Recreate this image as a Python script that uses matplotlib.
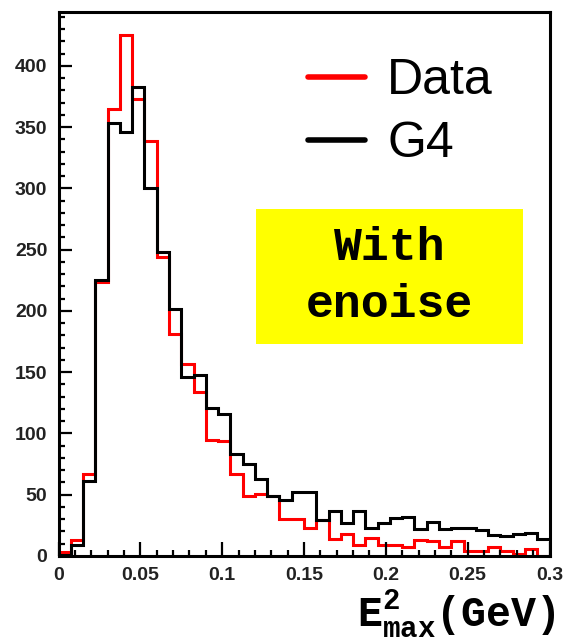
#!/usr/bin/env python

import matplotlib
matplotlib.use('Agg')
import matplotlib.pyplot as pyplot
import matplotlib.patches as patches
from matplotlib.ticker import MultipleLocator
import numpy as np

# 40 bins of 0.0075 GeV between 0 and 0.3
bin_edges = np.linspace(0.0, 0.3, 41)

data_counts = [3, 13, 67, 224, 365, 425, 373, 339, 244, 181,
               157, 134, 95, 94, 67, 49, 51, 49, 30, 30,
               23, 29, 14, 18, 9, 15, 9, 9, 7, 13,
               12, 7, 12, 4, 4, 7, 4, 2, 6, 0]
g4_counts = [1, 9, 61, 225, 353, 346, 383, 300, 248, 202,
             146, 148, 121, 116, 83, 75, 63, 49, 46, 52,
             52, 29, 37, 27, 37, 23, 27, 31, 32, 22,
             28, 22, 23, 23, 21, 17, 16, 18, 19, 14]

series_names = ['Data', 'G4']
series_colors = ['red', 'black']

pyplot.rcParams['font.family'] = ['Liberation Sans', 'DejaVu Sans']
pyplot.rcParams['mathtext.fontset'] = 'custom'
pyplot.rcParams['mathtext.rm'] = 'Liberation Mono:bold'
pyplot.rcParams['mathtext.it'] = 'Liberation Mono:bold'
pyplot.rcParams['mathtext.bf'] = 'Liberation Mono:bold'

W, H = 568, 640
fig = pyplot.figure(figsize=(W / 100, H / 100), dpi=100)
ax = fig.add_axes([58.5 / W, 1 - 556 / H, 491 / W, 544 / H])

for counts, name, color in zip([data_counts, g4_counts], series_names, series_colors):
  ax.stairs(counts, bin_edges, color=color, linewidth=2.2, label=name, baseline=None)

ax.set_xlim(0, 0.3)
ax.set_ylim(0, 444)

ax.xaxis.set_major_locator(MultipleLocator(0.05))
ax.xaxis.set_minor_locator(MultipleLocator(0.01))
ax.yaxis.set_major_locator(MultipleLocator(50))
ax.yaxis.set_minor_locator(MultipleLocator(10))
ax.set_xticks([0, 0.05, 0.1, 0.15, 0.2, 0.25, 0.3])
ax.set_xticklabels(['0', '0.05', '0.1', '0.15', '0.2', '0.25', '0.3'])

ax.tick_params(which='both', direction='in', top=False, right=False, width=1.6)
ax.tick_params(which='major', axis='x', length=10, pad=8)
ax.tick_params(which='minor', axis='x', length=4)
ax.tick_params(which='major', axis='y', length=9, pad=8)
ax.tick_params(which='minor', axis='y', length=4.5)
for lab in ax.get_xticklabels() + ax.get_yticklabels():
  lab.set_fontsize(14)
  lab.set_fontweight('bold')
  lab.set_color('#222222')

for sp in ax.spines.values():
  sp.set_linewidth(2.2)

leg = ax.legend(loc='upper left', bbox_to_anchor=((308 - 58.5) / 491, (556 - 58) / 544),
                frameon=False, fontsize=36, handlelength=1.14, handletextpad=0.44,
                labelspacing=0.34, borderpad=0, borderaxespad=0)
for line in leg.get_lines():
  line.set_linewidth(4)
  line.set_solid_capstyle('round')

box = patches.Rectangle((0.402, 0.390), 0.545, 0.248, transform=ax.transAxes,
                        facecolor='yellow', edgecolor='none', zorder=3)
ax.add_patch(box)
ax.text(0.674, 0.566, 'With', transform=ax.transAxes, ha='center', va='center',
        family='Liberation Mono', fontweight='bold', fontsize=33.5, zorder=4)
ax.text(0.674, 0.461, 'enoise', transform=ax.transAxes, ha='center', va='center',
        family='Liberation Mono', fontweight='bold', fontsize=33.5, zorder=4)

fig.text(556 / W, 1 - 614 / H, r'$\mathrm{E}^{2}_{\mathrm{max}}$(GeV)', ha='right', va='center',
         family='Liberation Mono', fontweight='bold', fontsize=30)

pyplot.savefig('out.png', dpi=100)
